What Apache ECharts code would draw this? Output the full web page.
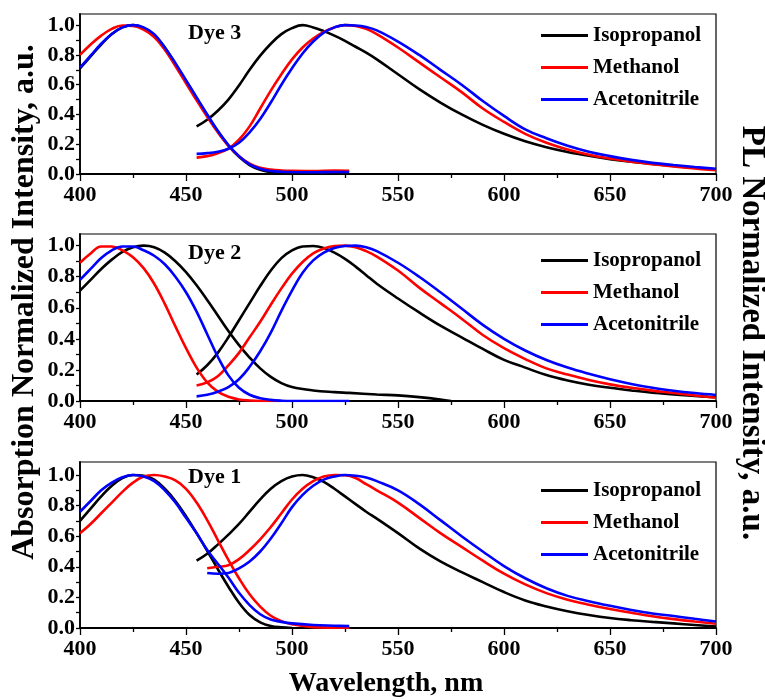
<!DOCTYPE html>
<html>
<head>
<meta charset="utf-8">
<script src="https://cdn.jsdelivr.net/npm/echarts@6/dist/echarts.min.js"></script>
<style>html,body{margin:0;padding:0;background:#fff}#c{width:765px;height:700px}</style>
</head>
<body>
<div id="c"></div>
<script>
// ---- Data ----
const solvents = ['Isopropanol', 'Methanol', 'Acetonitrile'];
const panelTitles = ['Dye 3', 'Dye 2', 'Dye 1'];
const xTicks = [400, 450, 500, 550, 600, 650, 700];
const yTicks = [0, 0.2, 0.4, 0.6, 0.8, 1.0];

// Absorption wavelength grid (nm)
const X_ABS = [400,405,410,415,420,425,430,435,440,445,450,455,460,465,470,475,480,485,490,495,500,510,520,527,540,550,560,570,575];
// Photoluminescence wavelength grid (nm)
const X_PL = [455,460,465,470,475,480,485,490,495,500,505,510,515,520,525,530,535,540,550,560,570,580,590,600,610,620,630,640,650,660,670,680,690,700];

// Dye 3
const dye3AbsIso  = [0.71,0.79,0.87,0.94,0.985,1.0,0.98,0.935,0.85,0.74,0.625,0.51,0.395,0.285,0.19,0.115,0.06,0.028,0.011,0.003,0.0,null,null,null,null,null,null,null,null];
const dye3AbsMeOH = [0.80,0.87,0.93,0.975,0.998,0.995,0.97,0.92,0.835,0.725,0.61,0.495,0.385,0.28,0.19,0.12,0.07,0.042,0.03,0.024,0.021,0.02,0.024,0.022,null,null,null,null,null];
const dye3AbsMeCN = [0.715,0.795,0.875,0.94,0.985,1.0,0.985,0.94,0.85,0.745,0.63,0.515,0.40,0.29,0.195,0.12,0.065,0.035,0.02,0.015,0.013,0.012,0.013,0.013,null,null,null,null,null];
const dye3PLIso  = [0.32,0.365,0.425,0.50,0.595,0.70,0.795,0.875,0.94,0.98,1.0,0.985,0.96,0.93,0.895,0.855,0.815,0.77,0.67,0.57,0.48,0.40,0.33,0.27,0.22,0.18,0.148,0.122,0.10,0.082,0.067,0.054,0.042,0.03];
const dye3PLMeOH = [0.11,0.12,0.14,0.17,0.23,0.32,0.44,0.56,0.67,0.77,0.85,0.91,0.955,0.985,1.0,0.995,0.975,0.94,0.85,0.75,0.65,0.55,0.44,0.35,0.27,0.21,0.165,0.13,0.104,0.083,0.066,0.05,0.037,0.025];
const dye3PLMeCN = [0.135,0.14,0.15,0.17,0.21,0.28,0.37,0.48,0.60,0.71,0.81,0.89,0.95,0.985,1.0,0.998,0.988,0.965,0.89,0.80,0.70,0.60,0.49,0.39,0.30,0.24,0.19,0.15,0.12,0.095,0.075,0.06,0.047,0.035];

// Dye 2
const dye2AbsIso  = [0.71,0.78,0.85,0.91,0.96,0.99,1.0,0.99,0.955,0.90,0.83,0.745,0.65,0.55,0.45,0.36,0.28,0.21,0.155,0.115,0.09,0.068,0.057,0.052,0.042,0.036,0.025,0.01,0.0];
const dye2AbsMeOH = [0.89,0.95,0.995,0.995,0.97,0.925,0.855,0.755,0.625,0.48,0.34,0.215,0.12,0.06,0.027,0.01,0.003,0.0,0.0,0.0,null,null,null,null,null,null,null,null,null];
const dye2AbsMeCN = [0.78,0.85,0.92,0.97,0.995,0.995,0.97,0.935,0.88,0.80,0.70,0.575,0.43,0.285,0.165,0.085,0.04,0.018,0.007,0.002,0.0,0.0,0.0,0.0,null,null,null,null,null];
const dye2PLIso  = [0.17,0.23,0.31,0.41,0.52,0.63,0.74,0.84,0.92,0.97,0.995,0.998,0.985,0.955,0.915,0.865,0.81,0.755,0.66,0.57,0.485,0.41,0.335,0.265,0.215,0.167,0.132,0.105,0.085,0.068,0.053,0.042,0.032,0.024];
const dye2PLMeOH = [0.10,0.12,0.16,0.23,0.31,0.41,0.51,0.62,0.725,0.82,0.895,0.95,0.982,0.997,1.0,0.99,0.965,0.93,0.84,0.73,0.63,0.53,0.425,0.34,0.27,0.21,0.17,0.135,0.107,0.085,0.067,0.052,0.036,0.021];
const dye2PLMeCN = [0.03,0.04,0.06,0.09,0.14,0.22,0.32,0.44,0.58,0.71,0.825,0.905,0.955,0.985,0.998,1.0,0.99,0.965,0.89,0.80,0.70,0.595,0.49,0.40,0.325,0.264,0.215,0.175,0.14,0.11,0.085,0.066,0.051,0.039];

// Dye 1
const dye1AbsIso  = [0.70,0.78,0.86,0.93,0.98,1.0,0.995,0.97,0.91,0.83,0.73,0.62,0.505,0.385,0.27,0.165,0.085,0.037,0.013,0.004,0.0,null,null,null,null,null,null,null,null];
const dye1AbsMeOH = [0.62,0.68,0.75,0.82,0.89,0.95,0.99,1.0,0.99,0.965,0.91,0.82,0.705,0.575,0.445,0.325,0.22,0.14,0.08,0.045,0.025,0.006,0.002,0.0,null,null,null,null,null];
const dye1AbsMeCN = [0.76,0.83,0.90,0.95,0.985,1.0,0.99,0.96,0.90,0.82,0.72,0.62,0.51,0.42,0.33,0.23,0.15,0.09,0.055,0.04,0.03,0.02,0.015,0.012,null,null,null,null,null];
const dye1PLIso  = [0.44,0.485,0.545,0.61,0.68,0.76,0.84,0.91,0.96,0.99,1.0,0.985,0.955,0.91,0.86,0.81,0.76,0.715,0.62,0.52,0.435,0.365,0.30,0.235,0.18,0.141,0.11,0.085,0.065,0.051,0.04,0.03,0.02,0.01];
const dye1PLMeOH = [null,0.39,0.40,0.41,0.45,0.51,0.58,0.66,0.75,0.84,0.91,0.96,0.99,1.0,0.998,0.98,0.94,0.90,0.82,0.72,0.62,0.53,0.44,0.355,0.285,0.228,0.185,0.152,0.124,0.10,0.077,0.058,0.042,0.028];
const dye1PLMeCN = [null,0.36,0.355,0.36,0.39,0.435,0.50,0.585,0.685,0.79,0.87,0.93,0.97,0.99,1.0,0.995,0.983,0.96,0.90,0.81,0.705,0.60,0.50,0.405,0.325,0.26,0.21,0.175,0.145,0.118,0.095,0.078,0.06,0.043];

// ---- Layout / styles ----
const FONT = '"Liberation Serif", "Times New Roman", serif';
const colors = ['#000000', '#ff0000', '#0000ff'];
const panels = [
  {top: 14, height: 160, max: 1.075, abs: [dye3AbsIso, dye3AbsMeOH, dye3AbsMeCN], pl: [dye3PLIso, dye3PLMeOH, dye3PLMeCN], labelY: 34, legendTop: 19},
  {top: 234, height: 167, max: 1.075, abs: [dye2AbsIso, dye2AbsMeOH, dye2AbsMeCN], pl: [dye2PLIso, dye2PLMeOH, dye2PLMeCN], labelY: 254, legendTop: 244},
  {top: 462, height: 166, max: 1.085, abs: [dye1AbsIso, dye1AbsMeOH, dye1AbsMeCN], pl: [dye1PLIso, dye1PLMeOH, dye1PLMeCN], labelY: 478, legendTop: 474}
];

function zip(xs, ys) { return xs.map((x, i) => [x, ys[i] == null ? null : ys[i]]); }

const grid = [], xAxis = [], yAxis = [], series = [], legend = [], graphic = [];
const yMinor = [];
for (let v = 0; v <= 10; v++) yMinor.push(v / 10);

panels.forEach((p, i) => {
  grid.push({left: 80, width: 636, top: p.top, height: p.height, show: true, borderColor: '#000', borderWidth: 1.2, backgroundColor: 'transparent'});
  xAxis.push({
    type: 'value', gridIndex: i, min: 400, max: 700, interval: 50,
    axisLine: {show: true, onZero: false, lineStyle: {color: '#000', width: 1.8}},
    axisTick: {show: true, length: 7, lineStyle: {color: '#000', width: 1.3}},
    minorTick: {show: true, splitNumber: 2, length: 4, lineStyle: {color: '#000', width: 1.3}},
    splitLine: {show: false},
    axisLabel: {margin: 10, color: '#000', fontFamily: FONT, fontWeight: 'bold', fontSize: 22,
      customValues: xTicks}
  });
  yAxis.push({
    type: 'value', gridIndex: i, min: 0, max: p.max,
    axisLine: {show: true, onZero: false, lineStyle: {color: '#000', width: 1.8}},
    axisTick: {show: true, length: 4, customValues: yMinor, lineStyle: {color: '#000', width: 1.3}},
    splitLine: {show: false},
    axisLabel: {margin: 5, color: '#000', fontFamily: FONT, fontWeight: 'bold', fontSize: 22,
      customValues: yTicks, formatter: v => v.toFixed(1)}
  });
  solvents.forEach((s, k) => {
    [zip(X_ABS, p.abs[k]), zip(X_PL, p.pl[k])].forEach(d => {
      series.push({
        type: 'line', name: s, xAxisIndex: i, yAxisIndex: i, data: d,
        showSymbol: false, symbol: 'none', smooth: 0.4, connectNulls: false,
        lineStyle: {color: colors[k], width: 2.6}, itemStyle: {color: colors[k]}
      });
    });
  });
  legend.push({
    data: solvents, orient: 'vertical', left: 536, top: p.legendTop,
    icon: 'rect', itemWidth: 47, itemHeight: 3, itemGap: 9, selectedMode: false,
    textStyle: {fontFamily: FONT, fontWeight: 'bold', fontSize: 21, color: '#000', lineHeight: 23}
  });
  graphic.push({
    type: 'text', left: 188, top: p.labelY - 12,
    style: {text: panelTitles[i], font: 'bold 22px ' + FONT, fill: '#000'}
  });
});

graphic.push({
  type: 'text', x: 25, y: 302, rotation: Math.PI / 2,
  style: {text: 'Absorption Normalized Intensity, a.u.', font: 'bold 32px ' + FONT, fill: '#000', textAlign: 'center', textVerticalAlign: 'middle'}
});
graphic.push({
  type: 'text', x: 752, y: 333, rotation: -Math.PI / 2,
  style: {text: 'PL Normalized Intensity, a.u.', font: 'bold 33px ' + FONT, fill: '#000', textAlign: 'center', textVerticalAlign: 'middle'}
});
graphic.push({
  type: 'text', x: 386, y: 684,
  style: {text: 'Wavelength, nm', font: 'bold 28px ' + FONT, fill: '#000', textAlign: 'center', textVerticalAlign: 'middle'}
});

const chart = echarts.init(document.getElementById('c'), null, {renderer: 'canvas'});
chart.setOption({
  animation: false,
  backgroundColor: '#fff',
  grid, xAxis, yAxis, series, legend, graphic
});
</script>
</body>
</html>
